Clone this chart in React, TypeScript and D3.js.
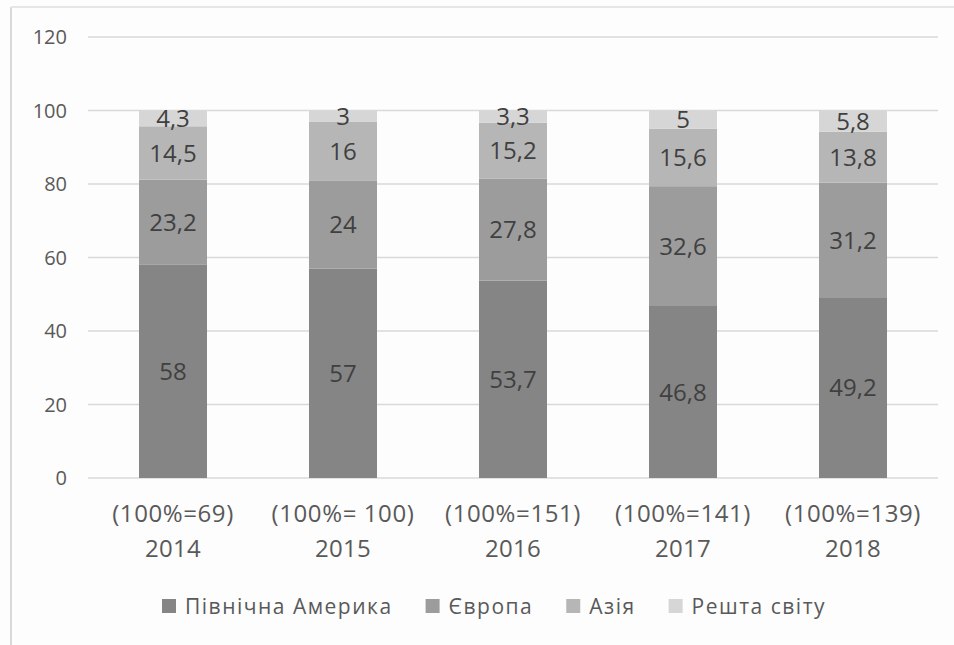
import React, { useEffect, useRef } from "react";
import * as d3 from "d3";

const years = ["2014", "2015", "2016", "2017", "2018"];
const totals = ["(100%=69)", "(100%= 100)", "(100%=151)", "(100%=141)", "(100%=139)"];
const seriesNames = ["Північна Америка", "Європа", "Азія", "Решта світу"];
const northAmerica = [58, 57, 53.7, 46.8, 49.2];
const europe = [23.2, 24, 27.8, 32.6, 31.2];
const asia = [14.5, 16, 15.2, 15.6, 13.8];
const restOfWorld = [4.3, 3, 3.3, 5, 5.8];
const yTicks = [0, 20, 40, 60, 80, 100, 120];
const colors = ["#858585", "#9c9c9c", "#b6b6b6", "#d6d6d6"];

const W = 954;
const H = 645;

export default function App() {
  const ref = useRef<SVGSVGElement>(null);

  useEffect(() => {
    const svg = d3.select(ref.current);
    svg.selectAll("*").remove();
    const font = "'Open Sans', sans-serif";

    svg.append("rect").attr("width", W).attr("height", H).attr("fill", "#fdfdfd");
    // frame
    svg.append("line").attr("x1", 11).attr("x2", 11).attr("y1", 7).attr("y2", H).attr("stroke", "#d9d9d9").attr("stroke-width", 2);
    svg.append("line").attr("x1", 11).attr("x2", W).attr("y1", 7).attr("y2", 7).attr("stroke", "#e6e6e6").attr("stroke-width", 2);

    const x = d3.scaleBand<string>().domain(years).range([88, 938]).paddingInner(0.6).paddingOuter(0.3);
    const y = d3.scaleLinear().domain([0, 120]).range([478, 37]);

    const grid = svg.append("g");
    yTicks.forEach((t) => {
      grid.append("line").attr("x1", 88).attr("x2", 938).attr("y1", y(t)).attr("y2", y(t))
        .attr("stroke", "#d9d9d9").attr("stroke-width", 1.5);
      grid.append("text").attr("x", 67).attr("y", y(t)).attr("dy", "0.36em").attr("text-anchor", "end")
        .attr("font-family", font).attr("font-size", 20).attr("fill", "#595959").text(String(t));
    });

    const table = years.map((yr, i) => ({
      year: yr,
      s0: northAmerica[i],
      s1: europe[i],
      s2: asia[i],
      s3: restOfWorld[i],
    }));
    const keys = ["s0", "s1", "s2", "s3"];
    const stacked = d3.stack<any>().keys(keys)(table);

    const fmt = (v: number) => String(v).replace(".", ",");

    stacked.forEach((layer, li) => {
      const g = svg.append("g");
      layer.forEach((d) => {
        const yr = (d.data as any).year;
        g.append("rect").attr("x", x(yr)!).attr("width", x.bandwidth())
          .attr("y", y(d[1])).attr("height", y(d[0]) - y(d[1])).attr("fill", colors[li]);
      });
      layer.forEach((d) => {
        const yr = (d.data as any).year;
        const v = d[1] - d[0];
        g.append("text").attr("x", x(yr)! + x.bandwidth() / 2).attr("y", (y(d[0]) + y(d[1])) / 2)
          .attr("dy", "0.36em").attr("text-anchor", "middle").attr("font-family", font)
          .attr("font-size", 24).attr("fill", "#404040").text(fmt(Math.round(v * 10) / 10));
      });
    });

    years.forEach((yr, i) => {
      const cx = x(yr)! + x.bandwidth() / 2;
      svg.append("text").attr("x", cx).attr("y", 513).attr("dy", "0.36em").attr("text-anchor", "middle")
        .attr("font-family", font).attr("font-size", 24).attr("letter-spacing", 0.6).attr("fill", "#595959").text(totals[i]);
      svg.append("text").attr("x", cx).attr("y", 548).attr("dy", "0.36em").attr("text-anchor", "middle")
        .attr("font-family", font).attr("font-size", 24).attr("letter-spacing", 0.3).attr("fill", "#595959").text(yr);
    });

    // legend
    const legend = svg.append("g");
    let lx = 162;
    const ly = 606;
    seriesNames.forEach((name, i) => {
      legend.append("rect").attr("x", lx).attr("y", ly - 7).attr("width", 14).attr("height", 14).attr("fill", colors[i]);
      const t = legend.append("text").attr("x", lx + 23).attr("y", ly).attr("dy", "0.36em")
        .attr("font-family", font).attr("font-size", 21).attr("letter-spacing", 1.5).attr("fill", "#595959").text(name);
      const w = (t.node() as SVGTextElement).getComputedTextLength();
      lx = lx + 23 + w + 33;
    });
  }, []);

  return (
    <svg ref={ref} width={W} height={H} style={{ position: "absolute", left: 0, top: 0 }} />
  );
}
